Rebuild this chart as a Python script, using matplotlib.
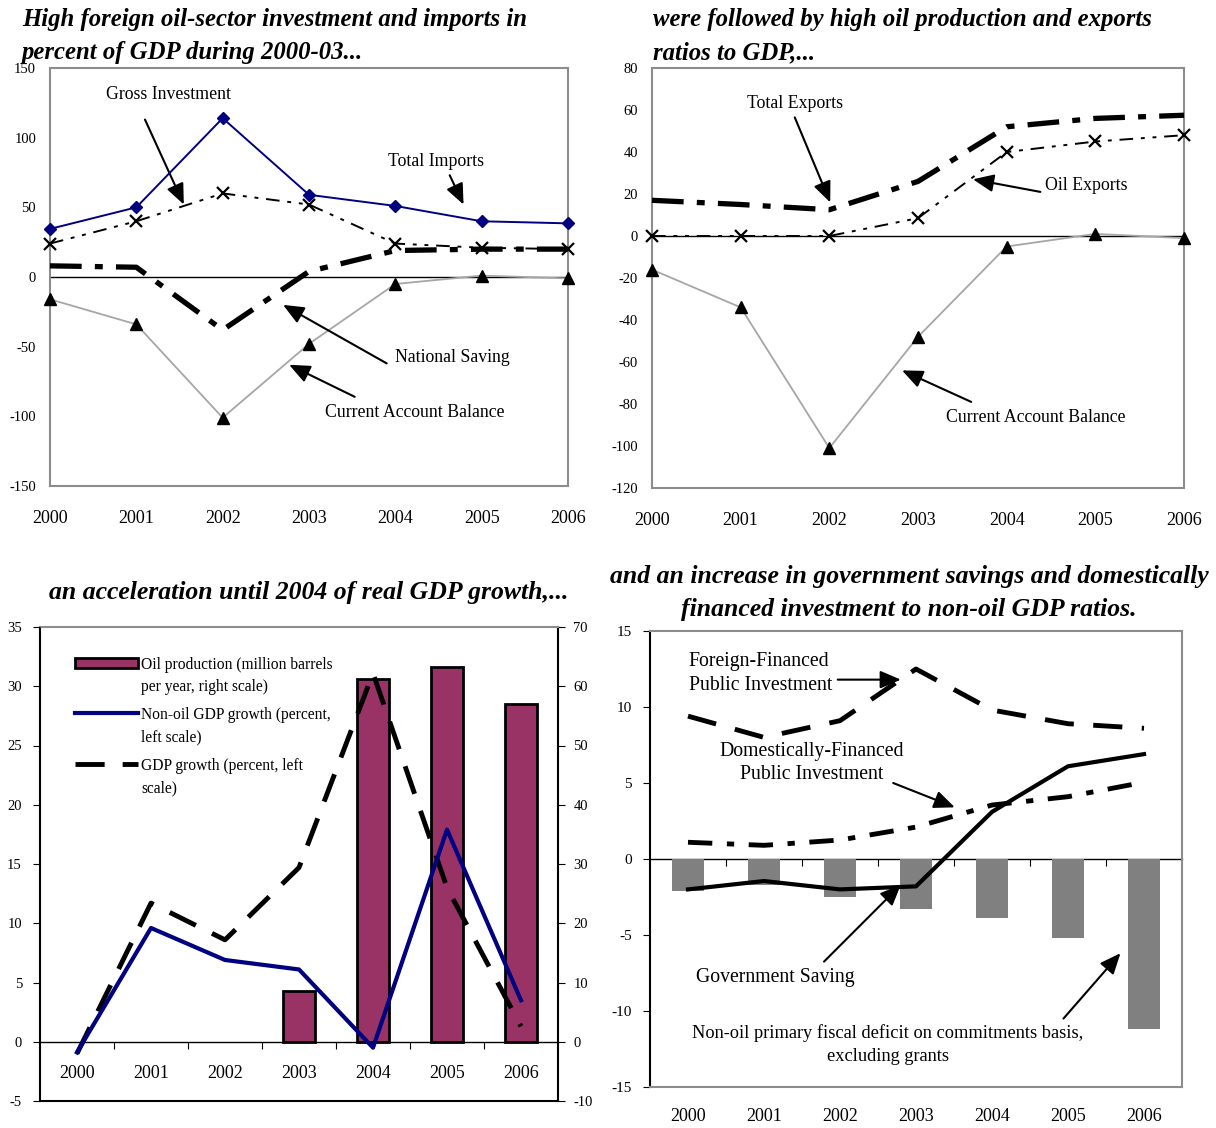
import matplotlib
matplotlib.use('Agg')
import matplotlib.pyplot as plt
from matplotlib.patches import Rectangle
from matplotlib.lines import Line2D

plt.rcParams['font.family'] = ['Liberation Serif', 'DejaVu Serif']
plt.rcParams['axes.unicode_minus'] = False

years = [2000, 2001, 2002, 2003, 2004, 2005, 2006]
year_labels = [str(y) for y in years]

# panel 1: investment, imports, saving (percent of GDP)
total_imports = [34.5, 50, 114, 59, 51, 40, 38.5]
gross_investment = [24, 40, 60, 52, 24, 21, 20]
national_saving = [8, 7, -38, 4, 19, 20, 20]
current_account = [-16, -34, -101, -48, -5, 1, -1]

# panel 2: exports (percent of GDP)
total_exports = [17, 15, 12.5, 26, 52, 56, 57.5]
oil_exports = [0, 0, 0, 8.5, 40, 45, 48]

# panel 3: growth and oil output
oil_production = [0, 0, 0, 8.6, 61.2, 63.2, 57]
nonoil_growth = [-0.9, 9.6, 6.9, 6.1, -0.5, 17.9, 3.5]
gdp_growth = [-1.0, 11.7, 8.6, 14.7, 31.1, 13.0, 1.3]

# panel 4: fiscal ratios (percent of non-oil GDP)
nonoil_deficit = [-2.1, -1.7, -2.5, -3.3, -3.9, -5.2, -11.2]
gov_saving = [-2.0, -1.45, -2.0, -1.8, 3.1, 6.1, 6.9]
foreign_invest = [9.4, 8.0, 9.1, 12.5, 9.8, 8.9, 8.6]
domestic_invest = [1.1, 0.9, 1.25, 2.1, 3.55, 4.1, 5.05]

W, H = 1216, 1128
fig = plt.figure(figsize=(W / 100, H / 100), dpi=100)

GREY_FRAME = '#8c8c8c'
TITLE = dict(fontweight='bold', fontstyle='italic', linespacing=1.55)
ARROW = dict(arrowstyle='-|>,head_length=0.7,head_width=0.3', color='black',
             lw=1.5, mutation_scale=18, shrinkA=0, shrinkB=0)


def box(l, t, r, b):
    return fig.add_axes([l / W, 1 - b / H, (r - l) / W, (b - t) / H])


def arrow(ax, start, end):
    ax.annotate('', xy=end, xytext=start, arrowprops=ARROW)


def grey_frame(ax):
    for s in ax.spines.values():
        s.set_color(GREY_FRAME)
        s.set_linewidth(1.5)


# ---------------- top left ----------------
ax = box(50, 68, 568, 486)
ax.plot(years, gross_investment, color='black', lw=1.4, ls=(0, (7, 4, 2, 4, 2, 4)),
        marker='x', ms=9, mew=1.6, clip_on=False, zorder=3)
ax.plot(years, total_imports, color='#000080', lw=1.4, marker='D', ms=6.5,
        clip_on=False, zorder=4)
ax.plot(years, national_saving, color='black', lw=3.8, ls=(0, (6, 2.5, 1.5, 2.5)),
        clip_on=False, zorder=3)
ax.plot(years, current_account, color='#a6a6a6', lw=1.3, marker='^', ms=9,
        mfc='black', mec='black', clip_on=False, zorder=3)
ax.axhline(0, color='black', lw=1, zorder=2)
ax.set_xlim(2000, 2006)
ax.set_ylim(-150, 150)
ax.set_xticks(years, year_labels)
ax.set_yticks(range(-150, 151, 50))
ax.tick_params(axis='both', length=0)
ax.tick_params(axis='x', labelsize=13, pad=17)
ax.tick_params(axis='y', labelsize=10.5, pad=10)
grey_frame(ax)
ax.text(2001.37, 131, 'Gross Investment', fontsize=12.8, ha='center', va='center')
arrow(ax, (2001.1, 113), (2001.55, 52))
ax.text(2004.47, 83, 'Total Imports', fontsize=12.8, ha='center', va='center')
arrow(ax, (2004.63, 73), (2004.79, 52))
ax.text(2004.66, -57.5, 'National Saving', fontsize=12.8, ha='center', va='center')
arrow(ax, (2003.9, -62), (2002.7, -20))
ax.text(2004.23, -97, 'Current Account Balance', fontsize=12.8, ha='center', va='center')
arrow(ax, (2003.53, -86), (2002.77, -63))
fig.text(22 / W, 1 - 36 / H, 'High foreign oil-sector investment and imports in\n'
         'percent of GDP during 2000-03...', ha='left', va='center',
         fontsize=17.8, **TITLE)

# ---------------- top right ----------------
ax = box(652, 68, 1184, 488)
ax.plot(years, total_exports, color='black', lw=3.8, ls=(0, (6, 2.5, 1.5, 2.5)),
        clip_on=False, zorder=3)
ax.plot(years, oil_exports, color='black', lw=1.4, ls=(0, (7, 4, 2, 4, 2, 4)),
        marker='x', ms=9, mew=1.6, clip_on=False, zorder=3)
ax.plot(years, current_account, color='#a6a6a6', lw=1.3, marker='^', ms=9,
        mfc='black', mec='black', clip_on=False, zorder=3)
ax.axhline(0, color='black', lw=1, zorder=2)
ax.set_xlim(2000, 2006)
ax.set_ylim(-120, 80)
ax.set_xticks(years, year_labels)
ax.set_yticks(range(-120, 81, 20))
ax.tick_params(axis='both', length=0)
ax.tick_params(axis='x', labelsize=13, pad=17)
ax.tick_params(axis='y', labelsize=10.5, pad=10)
grey_frame(ax)
ax.text(2001.61, 63, 'Total Exports', fontsize=12.8, ha='center', va='center')
arrow(ax, (2001.61, 56.5), (2002.01, 16))
ax.text(2004.9, 24, 'Oil Exports', fontsize=12.8, ha='center', va='center')
arrow(ax, (2004.38, 21), (2003.62, 27))
ax.text(2004.33, -86.5, 'Current Account Balance', fontsize=12.8, ha='center', va='center')
arrow(ax, (2003.6, -79), (2002.82, -64))
fig.text(653 / W, 1 - 36 / H, 'were followed by high oil production and exports\n'
         'ratios to GDP,...', ha='left', va='center', fontsize=17.8, **TITLE)

# ---------------- bottom left ----------------
idx = list(range(len(years)))
ax2 = box(40, 627, 558, 1101)
ax = fig.add_axes(ax2.get_position(), sharex=ax2)
# no output before 2003, so only the producing years get a bar
prod_idx = [i for i in idx if oil_production[i] > 0]
ax2.bar(prod_idx, [oil_production[i] for i in prod_idx], width=0.42,
        color='#993366', edgecolor='black', lw=2)
ax2.set_ylim(-10, 70)
ax2.yaxis.tick_right()
ax2.set_yticks(range(-10, 71, 10))
ax2.tick_params(axis='y', direction='out', length=5, labelsize=10.5, pad=6)
ax2.tick_params(axis='x', which='both', bottom=False, labelbottom=False)
for side in ('left', 'right', 'bottom'):
    ax2.spines[side].set_color('black')
    ax2.spines[side].set_linewidth(1.5)
ax2.spines['top'].set_color(GREY_FRAME)
ax2.spines['top'].set_linewidth(1.5)

ax.patch.set_visible(False)
ax.plot(idx, gdp_growth, color='black', lw=3.5, ls=(0, (6, 3.7)), zorder=3)
ax.plot(idx, nonoil_growth, color='#000080', lw=3, zorder=4)
ax.set_xlim(-0.5, 6.5)
ax.set_ylim(-5, 35)
ax.set_yticks(range(-5, 36, 5))
ax.tick_params(axis='y', direction='out', length=5, labelsize=10.5, pad=8)
ax.tick_params(axis='x', which='both', bottom=False, labelbottom=False)
for s in ax.spines.values():
    s.set_visible(False)
zero = ax.secondary_xaxis(5 / 40)
zero.spines['bottom'].set_linewidth(1)
zero.set_xticks([i + 0.5 for i in idx[:-1]], [''] * (len(idx) - 1))
zero.set_xticks(idx, year_labels, minor=True)
zero.tick_params(which='major', length=5)
zero.tick_params(which='minor', length=0, labelsize=13, pad=17)

# legend drawn in axes fraction
hx0, hx1, tx = 0.068, 0.189, 0.195
entries = [(0.924, 'Oil production (million barrels\nper year, right scale)'),
           (0.819, 'Non-oil GDP growth (percent,\nleft scale)'),
           (0.711, 'GDP growth (percent, left\nscale)')]
ax.add_patch(Rectangle((hx0, entries[0][0] - 0.0115), hx1 - hx0, 0.023,
                       transform=ax.transAxes, fc='#993366', ec='black', lw=2))
ax.add_line(Line2D([hx0, hx1], [entries[1][0]] * 2, transform=ax.transAxes,
                   color='#000080', lw=3))
ax.add_line(Line2D([hx0, hx1], [entries[2][0]] * 2, transform=ax.transAxes,
                   color='black', lw=3.5, ls=(0, (6, 3.7))))
for y, label in entries:
    ax.text(tx, y + 0.012, label, transform=ax.transAxes, fontsize=11.2,
            ha='left', va='top', linespacing=1.5)
fig.text(309 / W, 1 - 592 / H, 'an acceleration until 2004 of real GDP growth,...',
         ha='center', va='center', fontsize=18.5, **TITLE)

# ---------------- bottom right ----------------
ax = box(650, 631, 1182, 1087)
ax.bar(idx, nonoil_deficit, width=0.42, color='#808080', zorder=2)
ax.plot(idx, foreign_invest, color='black', lw=3.5, ls=(0, (6, 4)), zorder=3)
ax.plot(idx, domestic_invest, color='black', lw=3.5, ls=(0, (5, 3, 1.5, 3)), zorder=3)
ax.plot(idx, gov_saving, color='black', lw=3, zorder=4)
ax.set_xlim(-0.5, 6.5)
ax.set_ylim(-15, 15)
ax.set_yticks(range(-15, 16, 5))
ax.set_xticks(idx, year_labels)
ax.tick_params(axis='x', length=0, labelsize=13, pad=15)
ax.tick_params(axis='y', direction='out', length=5, labelsize=11, pad=8)
grey_frame(ax)
ax.spines['left'].set_color('black')
zero = ax.secondary_xaxis(0.4999)
zero.spines['bottom'].set_linewidth(1)
zero.set_xticks([i + 0.5 for i in idx[:-1]], [''] * (len(idx) - 1))
zero.tick_params(which='major', length=5)

ax.text(0.01, 12.2, 'Foreign-Financed\nPublic Investment', fontsize=14.2,
        ha='left', va='center', linespacing=1.3)
arrow(ax, (1.97, 11.8), (2.8, 11.8))
ax.text(1.63, 6.3, 'Domestically-Financed\nPublic Investment', fontsize=14.2,
        ha='center', va='center', linespacing=1.3)
arrow(ax, (2.7, 5.0), (3.51, 3.4))
ax.text(1.15, -7.8, 'Government Saving', fontsize=14.2, ha='center', va='center')
arrow(ax, (1.79, -6.75), (2.8, -1.7))
ax.text(2.63, -12.2, 'Non-oil primary fiscal deficit on commitments basis,\n'
        'excluding grants', fontsize=13.2, ha='center', va='center', linespacing=1.45)
arrow(ax, (4.94, -10.5), (5.69, -6.2))
fig.text(909 / W, 1 - 593 / H, 'and an increase in government savings and domestically\n'
         'financed investment to non-oil GDP ratios.', ha='center', va='center',
         fontsize=18.5, **TITLE)

fig.savefig('out.png', dpi=100)
